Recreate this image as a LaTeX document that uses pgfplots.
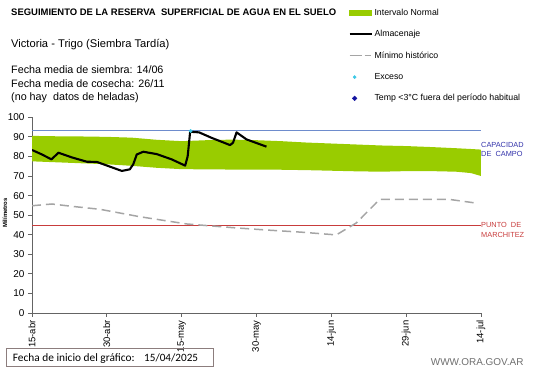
\documentclass[border=0pt]{standalone}
\usepackage{pgfplots}
\pgfplotsset{compat=1.18}
\usepgfplotslibrary{fillbetween}
\usepackage{fontspec}
\setmainfont{Liberation Sans}
\newfontfamily\calibri{Carlito}
\definecolor{bandgreen}{RGB}{153,204,0}
\definecolor{capblue}{RGB}{110,140,205}
\definecolor{captext}{RGB}{50,50,170}
\definecolor{wiltred}{RGB}{200,60,60}
\definecolor{mingray}{RGB}{165,165,165}
\definecolor{axgray}{RGB}{100,100,100}
\definecolor{excyan}{RGB}{60,200,230}
\definecolor{tempblue}{RGB}{20,20,160}
\definecolor{boxgray}{RGB}{140,125,125}
\definecolor{webgray}{RGB}{110,110,110}

\pgfplotstableread{
day upper lower
0 90.5 77.5
5 90.3 77.0
10 90.2 76.5
15 90.0 76.0
20 89.6 75.2
25 88.5 74.2
30 87.8 73.5
35 88.3 73.4
40 88.6 73.3
45 88.3 73.2
50 87.8 73.2
55 87.1 73.0
60 86.6 72.7
65 86.1 72.4
70 85.6 72.2
75 85.3 72.5
80 84.8 72.5
85 84.2 72.2
88 83.8 71.5
90 83.5 70.0
}\bandtable

\pgfplotstableread{
day val
0 83.3
2 81.0
3.9 78.5
5.3 81.9
8 79.5
11 77.3
13 77.2
18 72.6
19.6 73.4
20.3 76.0
21 81.0
22.3 82.4
25 81.2
28 78.5
30.7 75.3
31.2 80.0
31.7 92.6
32.3 92.5
33.5 92.3
36 89.5
39.7 85.8
40.3 87.0
41 92.3
43 88.7
47 85.0
}\almtable

\pgfplotstableread{
day val
0 54.8
4 55.7
8 54.5
13.6 53.0
21.6 49.2
31 45.5
40.3 43.6
47 42.4
54 41.3
61 39.9
65 46.0
69.7 58.1
83.8 58.0
89.5 56.0
}\mintable

\begin{document}
\begin{tikzpicture}
\path (0,0) rectangle (541bp,368bp);
\begin{axis}[
  scale only axis, width=449bp, height=195.7bp,
  at={(32bp,55bp)}, anchor=south west,
  xmin=0, xmax=90, ymin=0, ymax=100,
  axis lines=left, axis line style={-, axgray, line width=0.8pt},
  tick align=outside, major tick length=4bp,
  tick style={axgray, line width=0.8pt},
  xtick={0,15,...,90},
  xticklabels={15-abr,30-abr,15-may,30-may,14-jun,29-jun,14-jul},
  ytick={0,10,...,100},
  /pgf/number format/assume math mode=true,
  yticklabel style={font=\fontsize{10}{12}\selectfont},
  xticklabel style={rotate=90, anchor=east, font=\fontsize{9.5}{11}\selectfont},
  legend style={at={(0.705,1.565)}, anchor=north west, draw=none, fill=none,
    font=\fontsize{8.8}{10}\selectfont, row sep=9.6bp, inner sep=0pt,
    cells={anchor=west}},
  legend cell align=left,
]
\addlegendimage{legend image code/.code={\fill[bandgreen] (0bp,-2.5bp) rectangle (22bp,2.5bp);}}
\addlegendentry{Intervalo Normal}
\addlegendimage{legend image code/.code={\draw[black, line width=1.8pt] (0bp,0bp) -- (22bp,0bp);}}
\addlegendentry{Almacenaje}
\addlegendimage{legend image code/.code={\draw[mingray, line width=1.3pt] (0bp,0bp) -- (12bp,0bp) (15bp,0bp) -- (21bp,0bp);}}
\addlegendentry{Mínimo histórico}
\addlegendimage{legend image code/.code={\fill[excyan] (5bp,0bp) circle (1.6bp); \path (22bp,0bp);}}
\addlegendentry{Exceso}
\addlegendimage{legend image code/.code={\fill[tempblue] (5bp,2.4bp) -- (7.4bp,0bp) -- (5bp,-2.4bp) -- (2.6bp,0bp) -- cycle; \path (22bp,0bp);}}
\addlegendentry{Temp <3°C fuera del período habitual}

\addplot[name path=up, draw=none, forget plot] table[x=day, y=upper] {\bandtable};
\addplot[name path=lo, draw=none, forget plot] table[x=day, y=lower] {\bandtable};
\addplot[bandgreen, forget plot] fill between[of=up and lo];

\addplot[capblue, line width=1pt, forget plot] coordinates {(0,93) (90,93)};
\addplot[wiltred, line width=1pt, forget plot] coordinates {(0,44.5) (90,44.5)};

\addplot[mingray, line width=1.5pt, dash pattern=on 9bp off 5bp, forget plot] table[x=day, y=val] {\mintable};
\addplot[black, line width=2.1pt, line join=round, forget plot] table[x=day, y=val] {\almtable};
\addplot[only marks, mark=*, mark size=1.7bp, excyan, forget plot] coordinates {(31.8,93)};
\end{axis}

\node[anchor=west, inner sep=0pt, font=\bfseries\fontsize{9.5}{11}\selectfont] at (11bp,355.3bp) {SEGUIMIENTO DE LA RESERVA \ SUPERFICIAL DE AGUA EN EL SUELO};
\node[anchor=west, inner sep=0pt, font=\fontsize{11.2}{13}\selectfont] at (11bp,323bp) {Victoria - Trigo (Siembra Tardía)};
\node[anchor=west, inner sep=0pt, font=\fontsize{10.8}{12}\selectfont] at (11bp,298bp) {Fecha media de siembra: 14/06};
\node[anchor=west, inner sep=0pt, font=\fontsize{10.8}{12}\selectfont] at (11bp,284bp) {Fecha media de cosecha: 26/11};
\node[anchor=west, inner sep=0pt, font=\fontsize{10.8}{12}\selectfont] at (11bp,270bp) {(no hay \ datos de heladas)};

\node[anchor=north west, inner sep=0pt, align=left, text=captext, font=\fontsize{7.4}{9.5}\selectfont] at (481bp,226bp) {CAPACIDAD\\DE \ CAMPO};
\node[anchor=north west, inner sep=0pt, align=left, text=wiltred, font=\fontsize{7.4}{10.5}\selectfont] at (481bp,146bp) {PUNTO \ DE\\MARCHITEZ};

\node[rotate=90, inner sep=0pt, font=\bfseries\fontsize{6}{7}\selectfont] at (5bp,155bp) {Milímetros};

\draw[boxgray, line width=0.8pt] (6.7bp,2bp) rectangle (213bp,20bp);
\node[anchor=base west, inner sep=0pt, font=\calibri\fontsize{11.4}{13}\selectfont] at (12.7bp,6.3bp) {Fecha de inicio del gráfico:};
\node[anchor=base west, inner sep=0pt, font=\calibri\fontsize{11.2}{13}\selectfont] at (144bp,6.3bp) {15/04/2025};
\node[anchor=base west, inner sep=0pt, text=webgray, font=\fontsize{10}{12}\selectfont] at (430.7bp,3bp) {WWW.ORA.GOV.AR};
\end{tikzpicture}
\end{document}
